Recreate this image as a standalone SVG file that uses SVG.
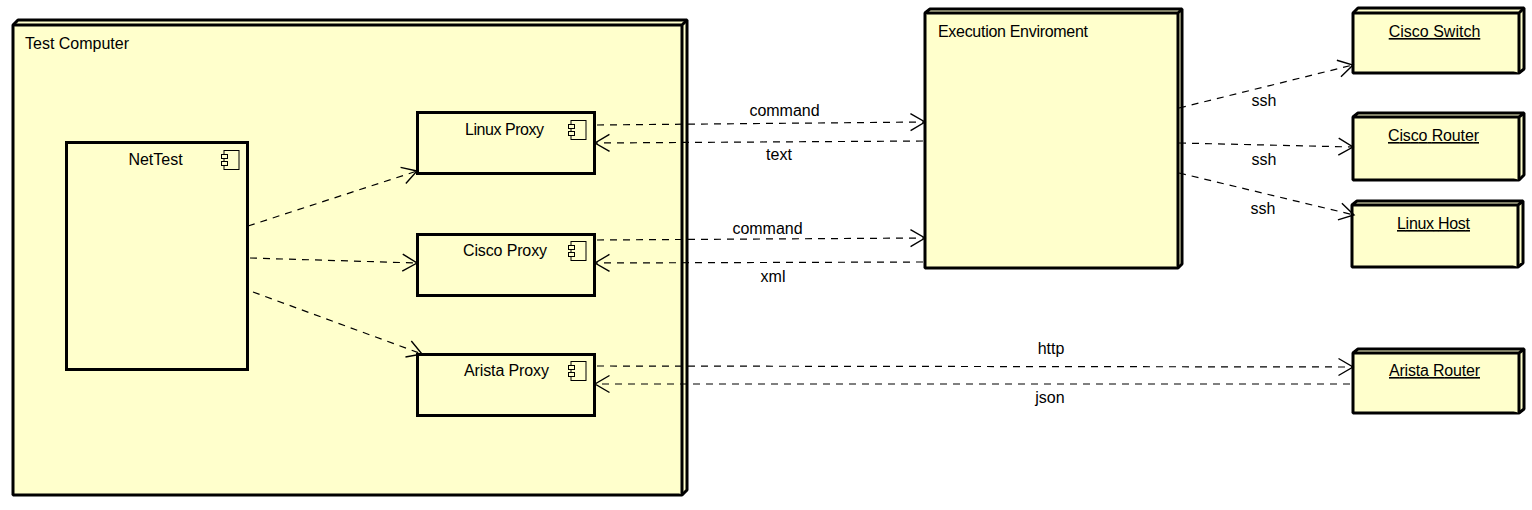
<svg xmlns="http://www.w3.org/2000/svg" width="1532" height="510" viewBox="0 0 1532 510">
<style>
text{font-family:"Liberation Sans",Arial,sans-serif;font-size:16px;fill:#000}
.m{text-anchor:middle}
.u{text-decoration:underline}
.box{fill:#ffffcc;stroke:#000;stroke-width:3;stroke-linejoin:miter}
.nd{fill:#ffffcc;stroke:#000;stroke-width:3;stroke-linejoin:bevel}
.ic{fill:#ffffcc;stroke:#000;stroke-width:1}
.c{fill:none;stroke:#000;stroke-width:1.2;stroke-dasharray:7 6}
.h{fill:none;stroke:#000;stroke-width:1.4}
</style>
<defs>
<g id="icon"><rect class="ic" x="3" y="0.5" width="15" height="19"/><rect class="ic" x="0.5" y="4.5" width="6" height="4"/><rect class="ic" x="0.5" y="11.5" width="6" height="4"/></g>
<marker id="a" overflow="visible" refX="0" refY="0" markerUnits="userSpaceOnUse" markerWidth="20" markerHeight="20" orient="auto"><path class="h" d="M-14.500 -8.500L0 0L-14.500 8.500"/></marker>
</defs>
<g id="test-computer">
<path class="nd" d="M13 25L18 20H687V490L682 495H13Z"/>
<path class="nd" d="M13 25H682V495M682 25L687 20" fill="none"/>
<text x="25" y="49">Test Computer</text>
</g>
<g id="execution-enviroment">
<path class="nd" d="M925 13L930 9H1182V264L1178 268H925Z"/>
<path class="nd" d="M925 13H1178V268M1178 13L1182 9" fill="none"/>
<text x="938" y="37" textLength="150">Execution Enviroment</text>
</g>
<g id="cisco-switch">
<path class="nd" d="M1353 13L1358 8H1524V69L1519 73H1353Z"/>
<path class="nd" d="M1353 13H1519V73M1519 13L1524 8" fill="none"/>
<text class="m u" x="1434.500" y="37">Cisco Switch</text>
</g>
<g id="cisco-router">
<path class="nd" d="M1353 117L1358 113H1524V175L1519 180H1353Z"/>
<path class="nd" d="M1353 117H1519V180M1519 117L1524 113" fill="none"/>
<text class="m u" x="1433.500" y="141" textLength="91">Cisco Router</text>
</g>
<g id="linux-host">
<path class="nd" d="M1352 205L1357 201H1523V263L1518 267H1352Z"/>
<path class="nd" d="M1352 205H1518V267M1518 205L1523 201" fill="none"/>
<text class="m u" x="1433.500" y="229" textLength="73">Linux Host</text>
</g>
<g id="arista-router">
<path class="nd" d="M1353 353L1358 349H1524V409L1519 413H1353Z"/>
<path class="nd" d="M1353 353H1519V413M1519 353L1524 349" fill="none"/>
<text class="m u" x="1434.500" y="376" textLength="91">Arista Router</text>
</g>
<g id="nettest">
<rect class="box" x="66.500" y="142.500" width="181" height="227"/>
<text class="m" x="155.500" y="165">NetTest</text>
<use href="#icon" x="221" y="150"/>
</g>
<g id="linux-proxy">
<rect class="box" x="417.500" y="112.500" width="177" height="61"/>
<text class="m" x="504.500" y="135" textLength="79">Linux Proxy</text>
<use href="#icon" x="568" y="120"/>
</g>
<g id="cisco-proxy">
<rect class="box" x="417.500" y="234.500" width="177" height="61"/>
<text class="m" x="505" y="256" textLength="84">Cisco Proxy</text>
<use href="#icon" x="568" y="241"/>
</g>
<g id="arista-proxy">
<rect class="box" x="417.500" y="354.500" width="177" height="61"/>
<text class="m" x="506.500" y="376" textLength="85">Arista Proxy</text>
<use href="#icon" x="568" y="361"/>
</g>
<g id="connectors">
<g marker-end="url(#a)">
<line class="c" x1="248" y1="226" x2="417" y2="171"/>
<line class="c" x1="250" y1="258" x2="417" y2="263"/>
<line class="c" x1="253" y1="292" x2="422" y2="354"/>
<line class="c" x1="597" y1="125" x2="925" y2="122"/>
<line class="c" x1="923" y1="141" x2="595" y2="143"/>
<line class="c" x1="597" y1="240" x2="925" y2="238"/>
<line class="c" x1="923" y1="262" x2="595" y2="263"/>
<line class="c" x1="597" y1="366" x2="1353" y2="367"/>
<line class="c" x1="1350" y1="384" x2="595" y2="384"/>
<line class="c" x1="1179" y1="108" x2="1353" y2="65"/>
<line class="c" x1="1179" y1="143" x2="1353" y2="147"/>
<line class="c" x1="1179" y1="173" x2="1354" y2="215"/>
</g>
<text class="m" x="784.500" y="116">command</text>
<text class="m" x="779" y="160">text</text>
<text class="m" x="767.500" y="234">command</text>
<text class="m" x="773" y="282">xml</text>
<text class="m" x="1051" y="354">http</text>
<text class="m" x="1050" y="403">json</text>
<text class="m" x="1264" y="106">ssh</text>
<text class="m" x="1264" y="165">ssh</text>
<text class="m" x="1263" y="214">ssh</text>
</g>
</svg>
